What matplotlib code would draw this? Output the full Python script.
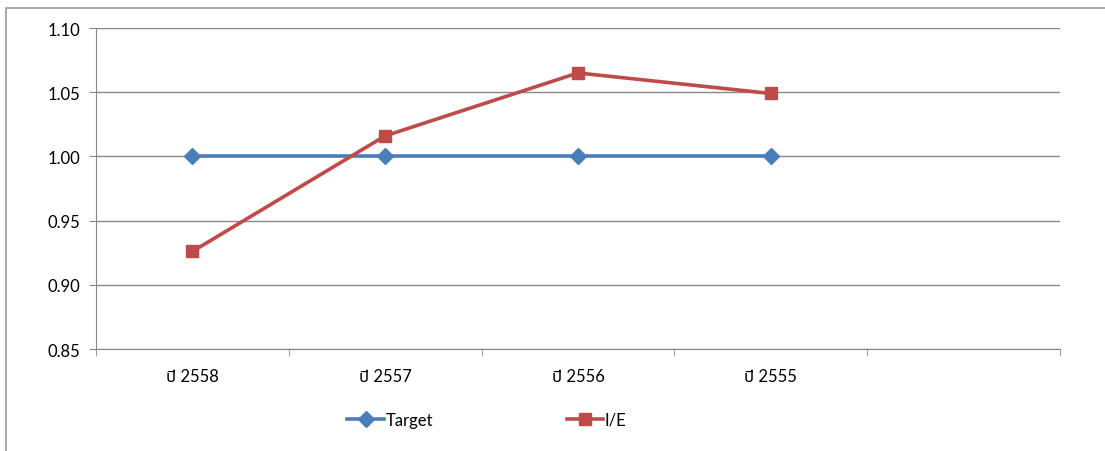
import matplotlib
matplotlib.use('Agg')
import matplotlib.pyplot as plt
from matplotlib import font_manager
from matplotlib.patches import Rectangle

# Data
years = ['ปี 2558', 'ปี 2557', 'ปี 2556', 'ปี 2555', '']
target = [1.00, 1.00, 1.00, 1.00]
ie = [0.926, 1.016, 1.065, 1.049]
y_ticks = [0.85, 0.90, 0.95, 1.00, 1.05, 1.10]

# pick a font that can draw Thai
installed = {f.name for f in font_manager.fontManager.ttflist}
thai_font = None
for name in ['Noto Sans Thai', 'Sarabun', 'IBM Plex Sans Thai', 'Bai Jamjuree']:
    if name in installed:
        thai_font = name
        break

families = ['Lato', 'DejaVu Sans']
if thai_font:
    families = ['Lato', thai_font, 'DejaVu Sans']
plt.rcParams['font.family'] = families

blue = '#4A7EBB'
red = '#BE4B48'
grid = '#888888'

fig = plt.figure(figsize=(11.05, 4.52), dpi=100)
ax = fig.add_axes([96 / 1105, 1 - 350 / 452, (1060 - 96) / 1105, (350 - 29) / 452])

# chart border (only left/top visible)
fig.patches.append(Rectangle((6 / 1105, -0.1), 1.2, 1 - 9 / 452 + 0.1, transform=fig.transFigure,
                             fill=False, edgecolor='#9a9a9a', linewidth=1.2))

x = range(len(target))
ax.plot(x, target, color=blue, linewidth=2.6, marker='D', markersize=8, label='Target', zorder=3)
ax.plot(x, ie, color=red, linewidth=2.6, marker='s', markersize=8.5, label='I/E', zorder=4)

ax.set_xlim(-0.5, len(years) - 0.5)
ax.set_ylim(0.85, 1.10)
ax.set_yticks(y_ticks)
ax.set_yticklabels(['%.2f' % v for v in y_ticks], fontsize=12)
ax.yaxis.grid(True, color=grid, linewidth=1)
ax.set_axisbelow(True)

ax.set_xticks(range(len(years)))
ax.set_xticklabels(years, fontsize=12)
ax.set_xticks([i - 0.5 for i in range(len(years) + 1)], minor=True)
ax.tick_params(axis='x', which='major', length=0, pad=14)
ax.tick_params(axis='x', which='minor', length=5, color=grid, direction='out')
ax.tick_params(axis='y', length=5, color=grid, direction='out', pad=6)

for s in ['top', 'right']:
    ax.spines[s].set_visible(False)
for s in ['left', 'bottom']:
    ax.spines[s].set_color(grid)

fig.legend(loc='center', bbox_to_anchor=(487 / 1105, 1 - 421 / 452), ncol=2, frameon=False,
           fontsize=12, handlelength=2.2, handletextpad=0.1, columnspacing=8.0)

plt.savefig('out.png', dpi=100)
